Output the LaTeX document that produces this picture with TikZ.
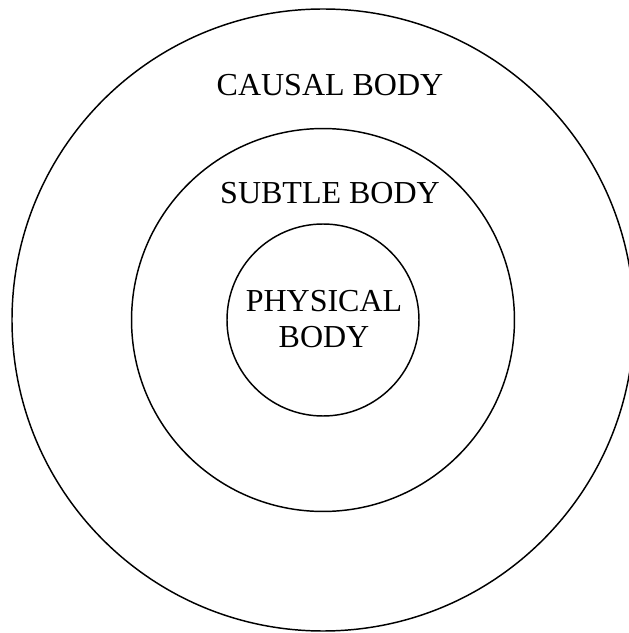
\documentclass[tikz,border=0pt]{standalone}
\usepackage{fontspec}
\setmainfont{Liberation Serif}
\usepackage{tikz}
\usetikzlibrary{positioning}

\begin{document}
\begin{tikzpicture}[x=0.75pt, y=0.75pt, font=\fontsize{24}{27.6}\selectfont]
  \useasboundingbox (0,0) rectangle (629,633);

  % Kruhy
  \coordinate (stred) at (323,313);
  \draw[line width=1.1pt] (stred) circle (233.25pt);
  \draw[line width=1.1pt] (stred) circle (143.6pt);
  \draw[line width=1.1pt] (stred) circle (72pt);

  % Popisy
  \node (kauzalni) at (330,548) {CAUSAL BODY};
  \node (jemne) at (330,440) {SUBTLE BODY};
  \node[align=center] (fyzicke) at (324,314) {PHYSICAL\\BODY};
\end{tikzpicture}
\end{document}
